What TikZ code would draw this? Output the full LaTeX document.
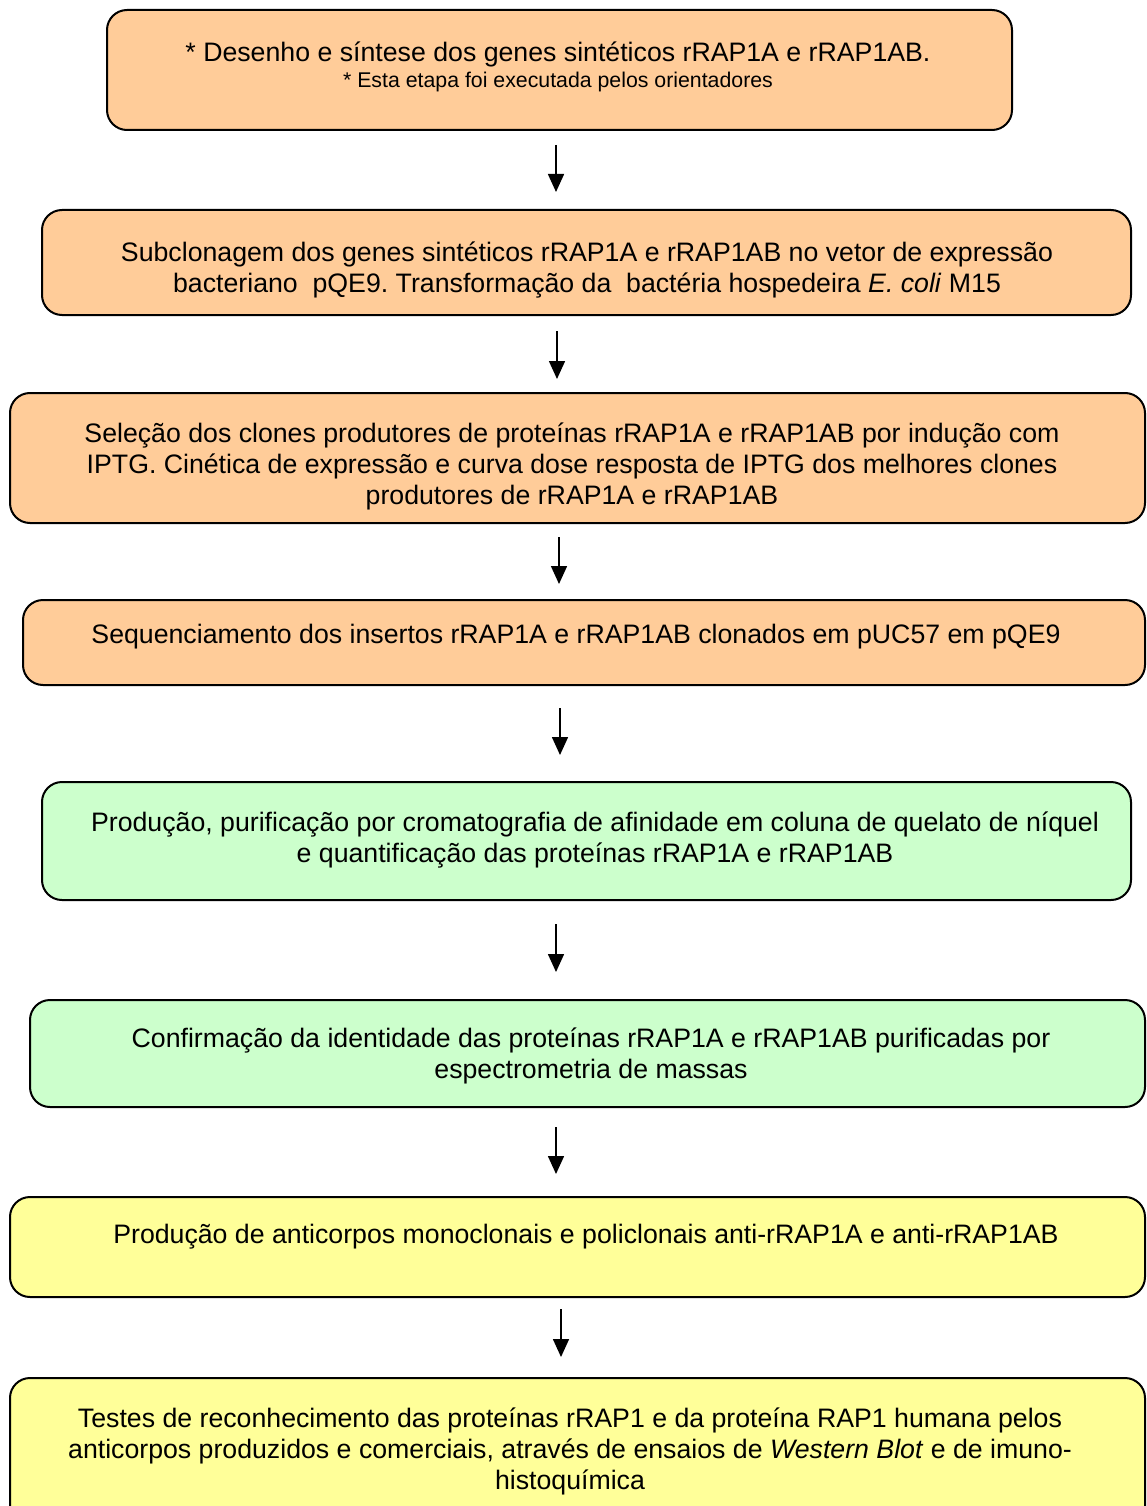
\documentclass[tikz,border=0pt]{standalone}
\usepackage{fontspec}
\setmainfont{Liberation Sans}
\usetikzlibrary{arrows.meta}
\frenchspacing
\definecolor{orangebox}{HTML}{FFCC99}
\definecolor{greenbox}{HTML}{CCFFCC}
\definecolor{yellowbox}{HTML}{FFFF99}
\tikzset{
  box/.style={draw=black, line width=2pt, rounded corners=20pt, inner sep=0pt},
  txt/.style={align=center, inner sep=0pt, font=\fontsize{26.7}{31}\selectfont},
  arr/.style={line width=1.6pt, -{Triangle[width=16pt,length=18pt]}}
}
\begin{document}
\begin{tikzpicture}[x=1pt,y=-1pt]
\clip (0,0) rectangle (1147,1506);
\fill[white] (0,0) rectangle (1147,1506);
% boxes
\draw[box, fill=orangebox] (107,10) rectangle (1012,130);
\node[txt] (t1) at (558,67) {* Desenho e síntese dos genes sintéticos rRAP1A e rRAP1AB.\\[-5pt]{\fontsize{21.3}{24}\selectfont * Esta etapa foi executada pelos orientadores}};
\draw[box, fill=orangebox] (42,210) rectangle (1131,315);
\node[txt] (t2) at (587,270) {Subclonagem dos genes sintéticos rRAP1A e rRAP1AB no vetor de expressão\\bacteriano\ \ pQE9. Transformação da\ \ bactéria hospedeira \textit{E. coli} M15};
\draw[box, fill=orangebox] (10,393) rectangle (1145,523);
\node[txt] (t3) at (572,466) {Seleção dos clones produtores de proteínas rRAP1A e rRAP1AB por indução com\\IPTG. Cinética de expressão e curva dose resposta de IPTG dos melhores clones\\produtores de rRAP1A e rRAP1AB};
\draw[box, fill=orangebox] (23,600) rectangle (1145,685);
\node[txt] (t4) at (576,637) {Sequenciamento dos insertos rRAP1A e rRAP1AB clonados em pUC57 em pQE9};
\draw[box, fill=greenbox] (42,782) rectangle (1131,900);
\node[txt] (t5) at (595,840) {Produção, purificação por cromatografia de afinidade em coluna de quelato de níquel\\e quantificação das proteínas rRAP1A e rRAP1AB};
\draw[box, fill=greenbox] (30,1000) rectangle (1145,1107);
\node[txt] (t6) at (591,1056) {Confirmação da identidade das proteínas rRAP1A e rRAP1AB purificadas por\\espectrometria de massas};
\draw[box, fill=yellowbox] (10,1197) rectangle (1145,1297);
\node[txt] (t7) at (586,1237) {Produção de anticorpos monoclonais e policlonais anti-rRAP1A e anti-rRAP1AB};
\draw[box, fill=yellowbox] (10,1378) rectangle (1145,1530);
\node[txt] (t8) at (570,1451) {Testes de reconhecimento das proteínas rRAP1 e da proteína RAP1 humana pelos\\anticorpos produzidos e comerciais, através de ensaios de \textit{Western Blot} e de imuno-\\histoquímica};
% arrow end points
\coordinate (a1s) at (556,145); \coordinate (a1e) at (556,192);
\coordinate (a2s) at (557,331); \coordinate (a2e) at (557,379);
\coordinate (a3s) at (559,537); \coordinate (a3e) at (559,584);
\coordinate (a4s) at (560,708); \coordinate (a4e) at (560,755);
\coordinate (a5s) at (556,924); \coordinate (a5e) at (556,972);
\coordinate (a6s) at (556,1127); \coordinate (a6e) at (556,1174);
\coordinate (a7s) at (561,1309); \coordinate (a7e) at (561,1357);
\foreach \i in {1,...,7} {\draw[arr] (a\i s) -- (a\i e);}
\end{tikzpicture}
\end{document}
